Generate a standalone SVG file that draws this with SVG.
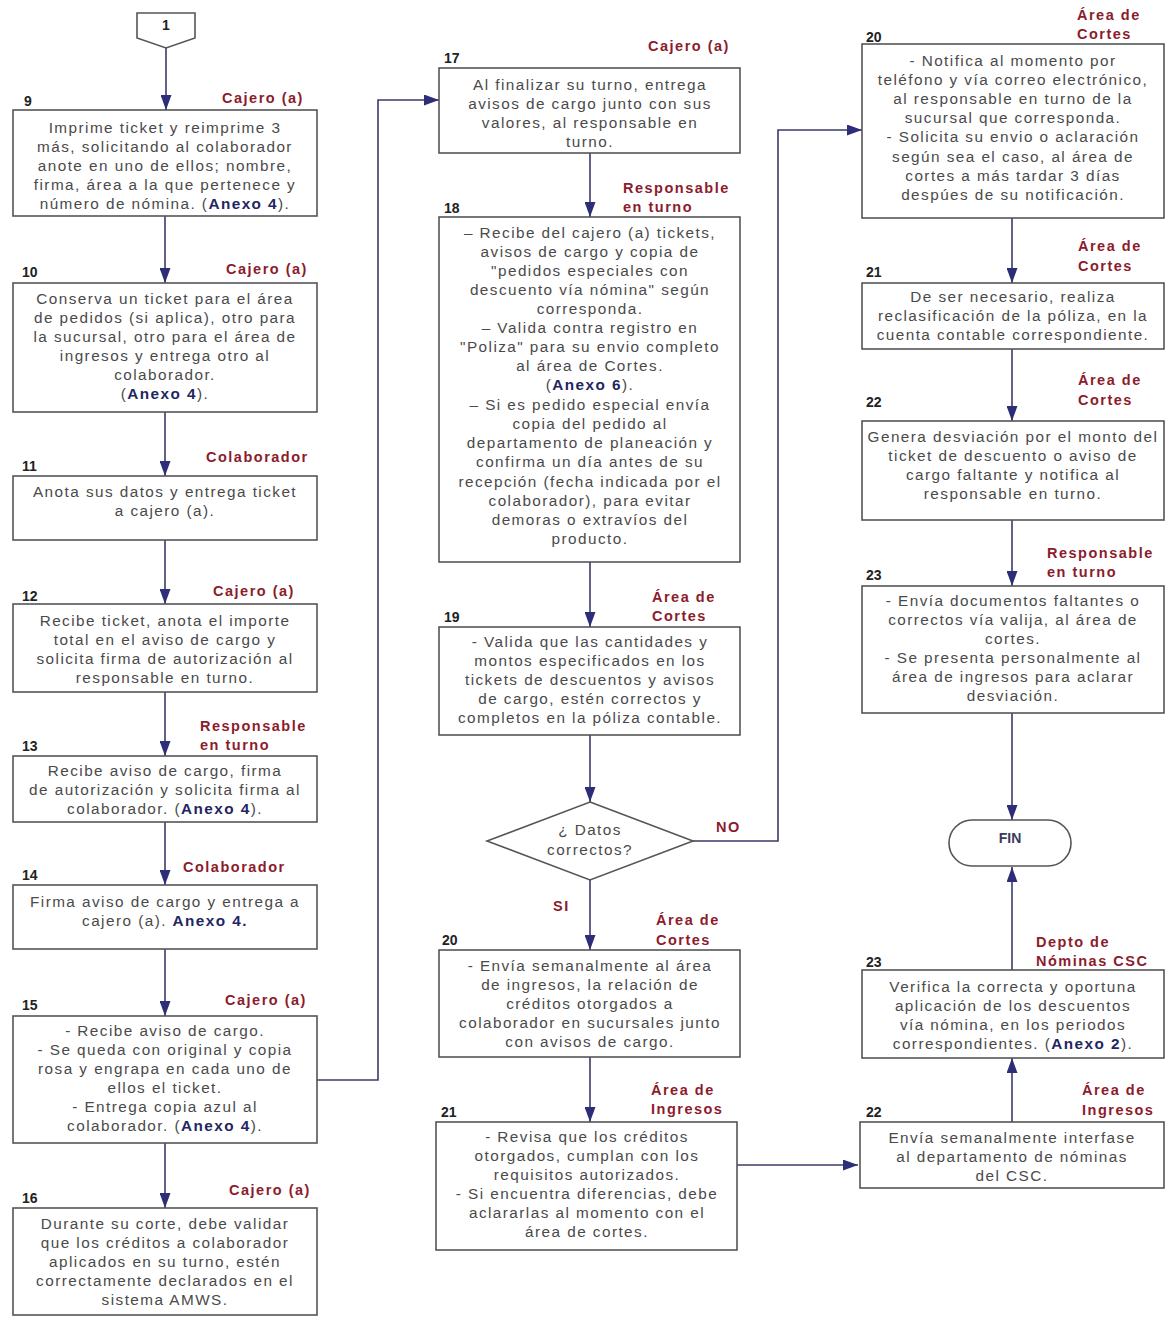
<svg xmlns="http://www.w3.org/2000/svg" width="1171" height="1320" viewBox="0 0 1171 1320">
<style>
.b{fill:#fff;stroke:#555;stroke-width:1.6}
.t{font-family:"Liberation Sans",Arial,sans-serif;font-size:15.3px;letter-spacing:1.45px;fill:#4a4a4a;text-anchor:middle}
.ax{font-weight:bold;fill:#1f2660}
.lb{font-family:"Liberation Sans",Arial,sans-serif;font-weight:bold;font-size:14.5px;letter-spacing:1.5px;fill:#8b1c2c}
.n{font-family:"Liberation Sans",Arial,sans-serif;font-weight:bold;font-size:14px;fill:#222}
.c{fill:none;stroke:#3b3b6b;stroke-width:1.6}
.fin{font-family:"Liberation Sans",Arial,sans-serif;font-weight:bold;font-size:14px;fill:#3a3a5a;text-anchor:middle}
</style>
<defs>
<marker id="ah" viewBox="0 0 15 11" refX="15" refY="5.5" markerWidth="15" markerHeight="11" markerUnits="userSpaceOnUse" orient="auto">
<path d="M0,0 L15,5.5 L0,11 Z" fill="#2e2e78"/>
</marker>
</defs>
<rect width="1171" height="1320" fill="#fff"/>

<g id="connectors">
<path class="c" d="M166,48 V110" marker-end="url(#ah)"/>
<path class="c" d="M165,216 V283" marker-end="url(#ah)"/>
<path class="c" d="M165,412 V476" marker-end="url(#ah)"/>
<path class="c" d="M165,540 V604" marker-end="url(#ah)"/>
<path class="c" d="M165,692 V756" marker-end="url(#ah)"/>
<path class="c" d="M165,822 V885" marker-end="url(#ah)"/>
<path class="c" d="M165,949 V1016" marker-end="url(#ah)"/>
<path class="c" d="M165,1143 V1208" marker-end="url(#ah)"/>
<path class="c" d="M317,1080 H378 V100 H439" marker-end="url(#ah)"/>
<path class="c" d="M590,153 V217" marker-end="url(#ah)"/>
<path class="c" d="M590,562 V627" marker-end="url(#ah)"/>
<path class="c" d="M590,735 V802" marker-end="url(#ah)"/>
<path class="c" d="M693,841 H778 V130 H862" marker-end="url(#ah)"/>
<path class="c" d="M590,880 V950" marker-end="url(#ah)"/>
<path class="c" d="M590,1057 V1122" marker-end="url(#ah)"/>
<path class="c" d="M737,1165 H858" marker-end="url(#ah)"/>
<path class="c" d="M1012,218 V283" marker-end="url(#ah)"/>
<path class="c" d="M1012,349 V421" marker-end="url(#ah)"/>
<path class="c" d="M1012,520 V586" marker-end="url(#ah)"/>
<path class="c" d="M1012,713 V820" marker-end="url(#ah)"/>
<path class="c" d="M1012,970 V867" marker-end="url(#ah)"/>
<path class="c" d="M1012,1122 V1058" marker-end="url(#ah)"/>
<text class="lb" x="716" y="832">NO</text>
<text class="lb" x="553" y="911">SI</text>
</g>

<g id="start1">
<path d="M137,13 H195 V38 L166,48 L137,38 Z" fill="#fff" stroke="#555" stroke-width="1.6"/>
<text class="n" x="166" y="30" text-anchor="middle">1</text>
</g>

<g id="n9">
<rect class="b" x="13" y="110" width="304" height="106"/>
<text class="n" x="24" y="106">9</text>
<text class="lb" x="222" y="103">Cajero (a)</text>
<text class="t"><tspan x="165" y="133">Imprime ticket y reimprime 3</tspan><tspan x="165" y="152">más, solicitando al colaborador</tspan><tspan x="165" y="171">anote en uno de ellos; nombre,</tspan><tspan x="165" y="190">firma, área a la que pertenece y</tspan><tspan x="165" y="209">número de nómina. (<tspan class="ax">Anexo 4</tspan>).</tspan></text>
</g>

<g id="n10">
<rect class="b" x="13" y="283" width="304" height="129"/>
<text class="n" x="22" y="277">10</text>
<text class="lb" x="226" y="274">Cajero (a)</text>
<text class="t"><tspan x="165" y="304">Conserva un ticket para el área</tspan><tspan x="165" y="323">de pedidos (si aplica), otro para</tspan><tspan x="165" y="342">la sucursal, otro para el área de</tspan><tspan x="165" y="361">ingresos y entrega otro al</tspan><tspan x="165" y="380">colaborador.</tspan><tspan x="165" y="399">(<tspan class="ax">Anexo 4</tspan>).</tspan></text>
</g>

<g id="n11">
<rect class="b" x="13" y="476" width="304" height="64"/>
<text class="n" x="22" y="471">11</text>
<text class="lb" x="206" y="462">Colaborador</text>
<text class="t"><tspan x="165" y="497">Anota sus datos y entrega ticket</tspan><tspan x="165" y="516">a cajero (a).</tspan></text>
</g>

<g id="n12">
<rect class="b" x="13" y="604" width="304" height="88"/>
<text class="n" x="22" y="601">12</text>
<text class="lb" x="213" y="596">Cajero (a)</text>
<text class="t"><tspan x="165" y="626">Recibe ticket, anota el importe</tspan><tspan x="165" y="645">total en el aviso de cargo y</tspan><tspan x="165" y="664">solicita firma de autorización al</tspan><tspan x="165" y="683">responsable en turno.</tspan></text>
</g>

<g id="n13">
<rect class="b" x="13" y="756" width="304" height="66"/>
<text class="n" x="22" y="751">13</text>
<text class="lb"><tspan x="200" y="731">Responsable</tspan><tspan x="200" y="750">en turno</tspan></text>
<text class="t"><tspan x="165" y="776">Recibe aviso de cargo, firma</tspan><tspan x="165" y="795">de autorización y solicita firma al</tspan><tspan x="165" y="814">colaborador. (<tspan class="ax">Anexo 4</tspan>).</tspan></text>
</g>

<g id="n14">
<rect class="b" x="13" y="885" width="304" height="64"/>
<text class="n" x="22" y="880">14</text>
<text class="lb" x="183" y="872">Colaborador</text>
<text class="t"><tspan x="165" y="907">Firma aviso de cargo y entrega a</tspan><tspan x="165" y="926">cajero (a). <tspan class="ax">Anexo 4.</tspan></tspan></text>
</g>

<g id="n15">
<rect class="b" x="13" y="1016" width="304" height="127"/>
<text class="n" x="22" y="1010">15</text>
<text class="lb" x="225" y="1005">Cajero (a)</text>
<text class="t"><tspan x="165" y="1036">-  Recibe aviso de cargo.</tspan><tspan x="165" y="1055">-  Se queda con original y copia</tspan><tspan x="165" y="1074">rosa y engrapa en cada uno de</tspan><tspan x="165" y="1093">ellos el ticket.</tspan><tspan x="165" y="1112">-  Entrega copia azul al</tspan><tspan x="165" y="1131">colaborador. (<tspan class="ax">Anexo 4</tspan>).</tspan></text>
</g>

<g id="n16">
<rect class="b" x="13" y="1208" width="304" height="107"/>
<text class="n" x="22" y="1203">16</text>
<text class="lb" x="229" y="1195">Cajero (a)</text>
<text class="t"><tspan x="165" y="1229">Durante su corte, debe validar</tspan><tspan x="165" y="1248">que los créditos a colaborador</tspan><tspan x="165" y="1267">aplicados en su turno, estén</tspan><tspan x="165" y="1286">correctamente declarados en el</tspan><tspan x="165" y="1305">sistema AMWS.</tspan></text>
</g>

<g id="n17">
<rect class="b" x="439" y="68" width="301" height="85"/>
<text class="n" x="444" y="63">17</text>
<text class="lb" x="648" y="51">Cajero (a)</text>
<text class="t"><tspan x="590" y="90">Al finalizar su turno, entrega</tspan><tspan x="590" y="109">avisos de cargo junto con sus</tspan><tspan x="590" y="128">valores, al responsable en</tspan><tspan x="590" y="147">turno.</tspan></text>
</g>

<g id="n18">
<rect class="b" x="439" y="217" width="301" height="345"/>
<text class="n" x="444" y="213">18</text>
<text class="lb"><tspan x="623" y="193">Responsable</tspan><tspan x="623" y="212">en turno</tspan></text>
<text class="t"><tspan x="590" y="238">–  Recibe del cajero (a)  tickets,</tspan><tspan x="590" y="257">avisos de cargo y copia de</tspan><tspan x="590" y="276">"pedidos especiales con</tspan><tspan x="590" y="295">descuento vía nómina" según</tspan><tspan x="590" y="314">corresponda.</tspan><tspan x="590" y="333">–  Valida contra registro en</tspan><tspan x="590" y="352">"Poliza" para  su envio completo</tspan><tspan x="590" y="371">al área de Cortes.</tspan><tspan x="590" y="390">(<tspan class="ax">Anexo 6</tspan>).</tspan><tspan x="590" y="410">– Si es pedido especial envía</tspan><tspan x="590" y="429">copia del pedido al</tspan><tspan x="590" y="448">departamento de planeación y</tspan><tspan x="590" y="467">confirma un día antes de su</tspan><tspan x="590" y="487">recepción (fecha indicada por el</tspan><tspan x="590" y="506">colaborador), para evitar</tspan><tspan x="590" y="525">demoras o extravíos del</tspan><tspan x="590" y="544">producto.</tspan></text>
</g>

<g id="n19">
<rect class="b" x="439" y="627" width="301" height="108"/>
<text class="n" x="444" y="622">19</text>
<text class="lb"><tspan x="652" y="602">Área de</tspan><tspan x="652" y="621">Cortes</tspan></text>
<text class="t"><tspan x="590" y="647">-  Valida que las cantidades y</tspan><tspan x="590" y="666">montos especificados en los</tspan><tspan x="590" y="685">tickets de descuentos y avisos</tspan><tspan x="590" y="704">de cargo, estén correctos y</tspan><tspan x="590" y="723">completos en la póliza contable.</tspan></text>
</g>

<g id="decision">
<path d="M590,802 L693,841 L590,880 L487,841 Z" fill="#fff" stroke="#555" stroke-width="1.6"/>
<text class="t"><tspan x="590" y="835">¿ Datos</tspan><tspan x="590" y="855">correctos?</tspan></text>
</g>

<g id="n20a">
<rect class="b" x="439" y="950" width="301" height="107"/>
<text class="n" x="442" y="945">20</text>
<text class="lb"><tspan x="656" y="925">Área de</tspan><tspan x="656" y="945">Cortes</tspan></text>
<text class="t"><tspan x="590" y="971">-  Envía semanalmente al área</tspan><tspan x="590" y="990">de ingresos, la relación de</tspan><tspan x="590" y="1009">créditos otorgados a</tspan><tspan x="590" y="1028">colaborador en sucursales junto</tspan><tspan x="590" y="1047">con avisos de cargo.</tspan></text>
</g>

<g id="n21a">
<rect class="b" x="436" y="1122" width="301" height="128"/>
<text class="n" x="441" y="1117">21</text>
<text class="lb"><tspan x="651" y="1095">Área de</tspan><tspan x="651" y="1114">Ingresos</tspan></text>
<text class="t"><tspan x="587" y="1142">-  Revisa que los créditos</tspan><tspan x="587" y="1161">otorgados, cumplan con los</tspan><tspan x="587" y="1180">requisitos autorizados.</tspan><tspan x="587" y="1199">- Si encuentra diferencias, debe</tspan><tspan x="587" y="1218">aclararlas al momento con el</tspan><tspan x="587" y="1237">área de cortes.</tspan></text>
</g>

<g id="n20b">
<rect class="b" x="862" y="44" width="302" height="174"/>
<text class="n" x="866" y="42">20</text>
<text class="lb"><tspan x="1077" y="20">Área de</tspan><tspan x="1077" y="39">Cortes</tspan></text>
<text class="t"><tspan x="1013" y="66">-  Notifica al momento por</tspan><tspan x="1013" y="85">teléfono y vía correo electrónico,</tspan><tspan x="1013" y="104">al responsable en turno de la</tspan><tspan x="1013" y="123">sucursal que corresponda.</tspan><tspan x="1013" y="142">-  Solicita su envio o aclaración</tspan><tspan x="1013" y="162">según sea el caso, al área de</tspan><tspan x="1013" y="181">cortes a más tardar 3 días</tspan><tspan x="1013" y="200">despúes de su notificación.</tspan></text>
</g>

<g id="n21b">
<rect class="b" x="862" y="283" width="302" height="66"/>
<text class="n" x="866" y="277">21</text>
<text class="lb"><tspan x="1078" y="251">Área de</tspan><tspan x="1078" y="271">Cortes</tspan></text>
<text class="t"><tspan x="1013" y="302">De ser necesario, realiza</tspan><tspan x="1013" y="321">reclasificación de la póliza, en la</tspan><tspan x="1013" y="340">cuenta contable correspondiente.</tspan></text>
</g>

<g id="n22b">
<rect class="b" x="862" y="421" width="302" height="99"/>
<text class="n" x="866" y="407">22</text>
<text class="lb"><tspan x="1078" y="385">Área de</tspan><tspan x="1078" y="405">Cortes</tspan></text>
<text class="t"><tspan x="1013" y="442">Genera desviación por el monto del</tspan><tspan x="1013" y="461">ticket de descuento o aviso de</tspan><tspan x="1013" y="480">cargo faltante y notifica al</tspan><tspan x="1013" y="499">responsable en turno.</tspan></text>
</g>

<g id="n23b">
<rect class="b" x="862" y="586" width="302" height="127"/>
<text class="n" x="866" y="580">23</text>
<text class="lb"><tspan x="1047" y="558">Responsable</tspan><tspan x="1047" y="577">en turno</tspan></text>
<text class="t"><tspan x="1013" y="606">- Envía documentos faltantes o</tspan><tspan x="1013" y="625">correctos vía valija, al área de</tspan><tspan x="1013" y="644">cortes.</tspan><tspan x="1013" y="663">-  Se presenta personalmente al</tspan><tspan x="1013" y="682">área de ingresos para aclarar</tspan><tspan x="1013" y="701">desviación.</tspan></text>
</g>

<g id="fin">
<rect x="949" y="820" width="122" height="46" rx="23" ry="23" fill="#fff" stroke="#555" stroke-width="1.6"/>
<text class="fin" x="1010" y="843">FIN</text>
</g>

<g id="n23c">
<rect class="b" x="862" y="970" width="302" height="88"/>
<text class="n" x="866" y="967">23</text>
<text class="lb"><tspan x="1036" y="947">Depto de</tspan><tspan x="1036" y="966">Nóminas CSC</tspan></text>
<text class="t"><tspan x="1013" y="992">Verifica la correcta y oportuna</tspan><tspan x="1013" y="1011">aplicación de los descuentos</tspan><tspan x="1013" y="1030">vía nómina, en los periodos</tspan><tspan x="1013" y="1049">correspondientes. (<tspan class="ax">Anexo 2</tspan>).</tspan></text>
</g>

<g id="n22c">
<rect class="b" x="860" y="1122" width="304" height="66"/>
<text class="n" x="866" y="1117">22</text>
<text class="lb"><tspan x="1082" y="1095">Área de</tspan><tspan x="1082" y="1115">Ingresos</tspan></text>
<text class="t"><tspan x="1012" y="1143">Envía semanalmente interfase</tspan><tspan x="1012" y="1162">al departamento de nóminas</tspan><tspan x="1012" y="1181">del CSC.</tspan></text>
</g>
</svg>
